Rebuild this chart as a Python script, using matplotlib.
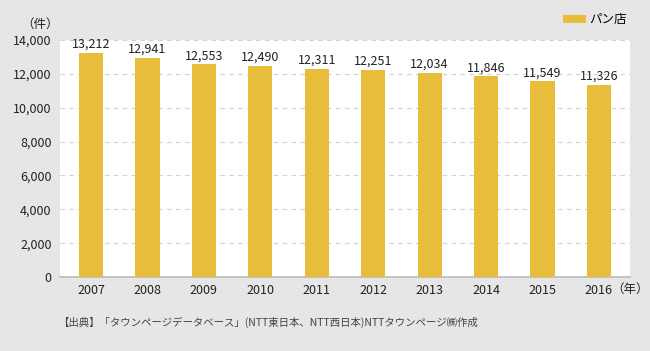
import matplotlib
matplotlib.use("Agg")
import matplotlib.pyplot as plt

plt.rcParams['font.family'] = ['Noto Sans CJK JP', 'DejaVu Sans']

years = ['2007', '2008', '2009', '2010', '2011', '2012', '2013', '2014', '2015', '2016']
counts = [13212, 12941, 12553, 12490, 12311, 12251, 12034, 11846, 11549, 11326]
yticks = [0, 2000, 4000, 6000, 8000, 10000, 12000, 14000]

bg = '#e6e6e6'
bar_col = '#e8bd3c'

fig = plt.figure(figsize=(6.5, 3.51), dpi=100, facecolor=bg)
ax = fig.add_axes([60/650, 1 - 277/351, 570/650, 237/351])
ax.set_facecolor('white')

x = range(len(years))
bars = ax.bar(x, counts, width=0.43, color=bar_col, zorder=3, label='パン店')
for xi, v in zip(x, counts):
    ax.text(xi, v + 130, f'{v:,}', ha='center', va='bottom', fontsize=9, color='#222222')

ax.set_ylim(0, 14000)
ax.set_xlim(-0.55, 9.55)
ax.set_yticks(yticks)
ax.set_yticklabels([f'{t:,}' for t in yticks], fontsize=9, color='#222222')
ax.set_xticks(list(x))
ax.set_xticklabels(years, fontsize=9, color='#222222')
ax.yaxis.grid(True, linestyle=(0, (4, 4)), color='#d0d0d0', linewidth=0.8, zorder=0)
for s in ['top', 'right', 'left']:
    ax.spines[s].set_visible(False)
ax.spines['bottom'].set_color('#bbbbbb')
ax.spines['bottom'].set_linewidth(1.2)
ax.tick_params(length=0, pad=5)
ax.tick_params(axis='y', pad=6)

fig.text(40/650, 1 - 24/351, '（件）', fontsize=9, ha='center', va='center', color='#222222')
fig.text(630/650, 1 - 289/351, '（年）', fontsize=9, ha='center', va='center', color='#222222')

leg = fig.legend(handles=[bars], loc='center right', bbox_to_anchor=(632/650, 1 - 20/351),
                 frameon=False, fontsize=9, handlelength=1.8, handleheight=0.6,
                 handletextpad=0.3, borderaxespad=0)

fig.text(58/650, 1 - 322/351,
         '【出典】「タウンページデータベース」(NTT東日本、NTT西日本)NTTタウンページ㈱作成',
         fontsize=7.5, ha='left', va='center', color='#444444')

fig.savefig('out.png', dpi=100, facecolor=bg)
